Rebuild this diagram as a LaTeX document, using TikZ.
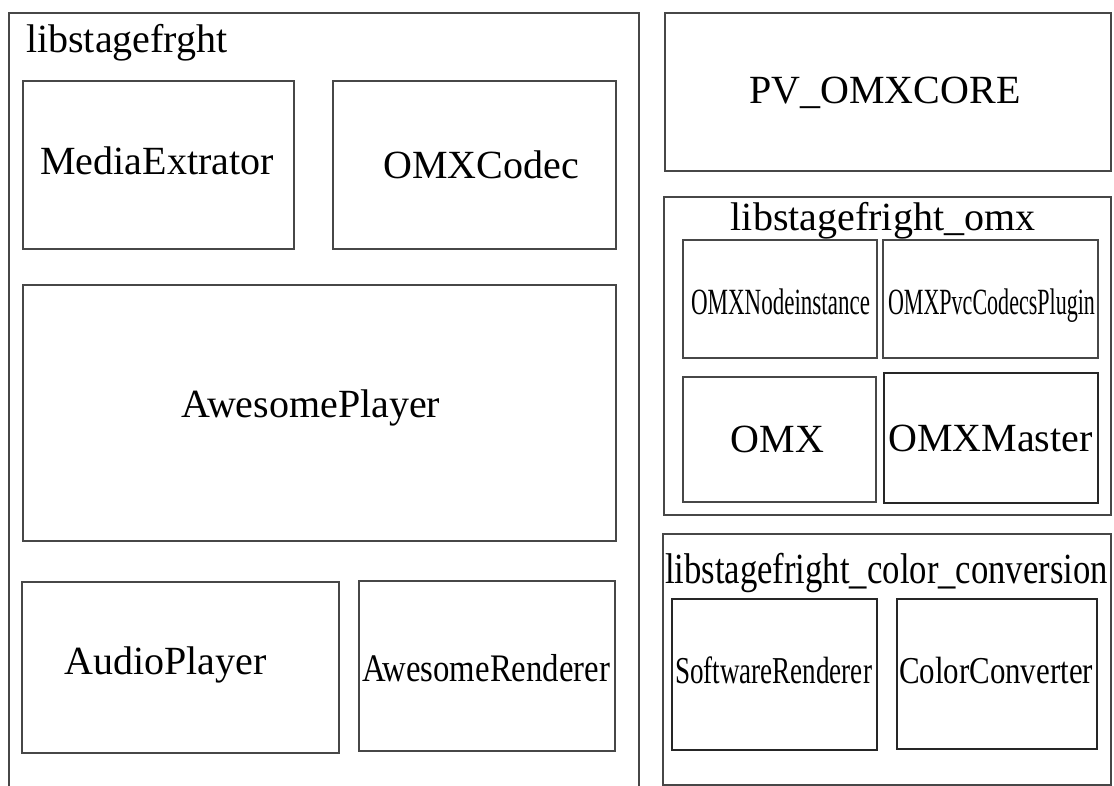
\documentclass[tikz,border=0pt]{standalone}
\usepackage{fontspec}
\usepackage{graphicx}
\setmainfont{Liberation Serif}
% text of a given size squeezed to a given width, height kept
\newcommand{\fitw}[3]{\resizebox{#1pt}{\height}{\fontsize{#2}{#2}\selectfont #3}}
\newcommand{\fsz}[1]{\fontsize{#1}{#1}\selectfont}
\begin{document}
\begin{tikzpicture}[x=1pt,y=-1pt,
  box/.style={draw=black!72, line width=1.2pt, inner sep=0pt, rectangle},
  lbl/.style={anchor=base, inner sep=0pt, font=\fsz{40}}]
\clip (0,0) rectangle (1114,786);
\fill[white] (0,0) rectangle (1114,786);

% libstagefrght group
\node[box, minimum width=630pt, minimum height=787pt] (grpA) at (324,406.5) {};
\node[lbl, anchor=base west] (grpAt) at (26,53) {libstagefrght};

\node[box, minimum width=271pt, minimum height=168pt] (mex) at (158.5,165) {};
\node[lbl] (mext) at (157,175) {MediaExtrator};

\node[box, minimum width=283pt, minimum height=168pt] (codec) at (474.5,165) {};
\node[lbl] (codect) at (481,179) {OMXCodec};

\node[box, minimum width=593pt, minimum height=256pt] (awp) at (319.5,413) {};
\node[lbl] (awpt) at (311,417) {AwesomePlayer};

\node[box, minimum width=317pt, minimum height=171pt] (aud) at (180.5,667.5) {};
\node[lbl] (audt) at (165.5,674) {AudioPlayer};

\node[box, minimum width=256pt, minimum height=170pt] (awr) at (487,666) {};
\node[lbl] (awrt) at (486,681) {\fitw{248}{39}{AwesomeRenderer}};

% PV_OMXCORE
\node[box, minimum width=446pt, minimum height=158pt] (pv) at (888,92) {};
\node[lbl] (pvt) at (885,104) {PV\_OMXCORE};

% libstagefright_omx group
\node[box, minimum width=447pt, minimum height=318pt] (grpB) at (887.5,356) {};
\node[lbl] (grpBt) at (883,231) {libstagefright\_omx};

\node[box, minimum width=194pt, minimum height=118pt] (node) at (780,299) {};
\node[lbl] (nodet) at (780.5,315) {\fitw{179}{37}{OMXNodeinstance}};

\node[box, minimum width=215pt, minimum height=118pt] (pvc) at (990.5,299) {};
\node[lbl] (pvct) at (991.5,315) {\fitw{207}{37}{OMXPvcCodecsPlugin}};

\node[box, minimum width=193pt, minimum height=125pt] (omx) at (779.5,439.5) {};
\node[lbl] (omxt) at (777.5,452) {OMX};

\node[box, draw=black!85, minimum width=214pt, minimum height=130pt] (master) at (991,438) {};
\node[lbl] (mastert) at (990.5,451) {OMXMaster};

% libstagefright_color_conversion group
\node[box, minimum width=448pt, minimum height=251pt] (grpC) at (887,659.5) {};
\node[lbl] (grpCt) at (886.5,583) {\fitw{443}{43}{libstagefright\_color\_conversion}};

\node[box, draw=black!85, minimum width=205pt, minimum height=151pt] (sw) at (774.5,674.5) {};
\node[lbl] (swt) at (773.5,683) {\fitw{197}{38}{SoftwareRenderer}};

\node[box, draw=black!85, minimum width=200pt, minimum height=150pt] (cc) at (997,674) {};
\node[lbl] (cct) at (996,683) {\fitw{194}{38}{ColorConverter}};
\end{tikzpicture}
\end{document}
